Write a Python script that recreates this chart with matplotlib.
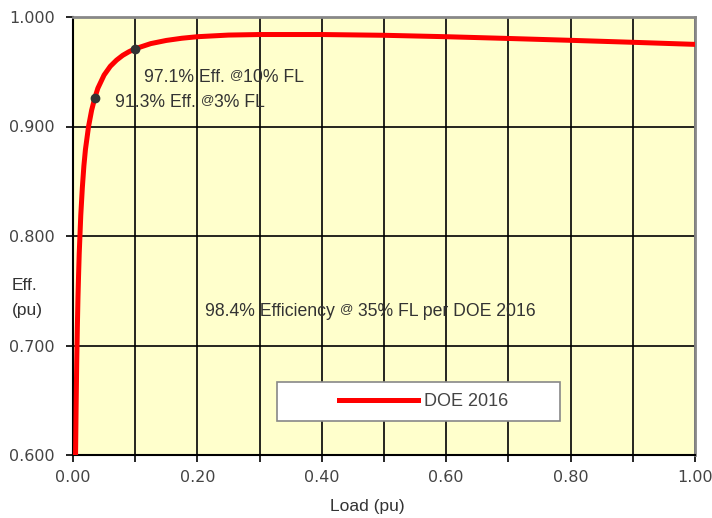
import matplotlib.pyplot as plt
import matplotlib.transforms as mtransforms
from matplotlib.patches import Rectangle

# efficiency curve
load = [0.0041, 0.005, 0.006, 0.007, 0.008, 0.009, 0.010, 0.0125, 0.015, 0.0175,
        0.02, 0.025, 0.03, 0.035, 0.04, 0.045, 0.05, 0.06, 0.07, 0.08, 0.09,
        0.10, 0.125, 0.15, 0.175, 0.20, 0.25, 0.30, 0.35, 0.40, 0.50, 0.60,
        0.70, 0.80, 0.90, 1.00]
eff = [0.600, 0.644, 0.685, 0.717, 0.744, 0.765, 0.784, 0.819, 0.844, 0.864,
       0.879, 0.900, 0.915, 0.926, 0.935, 0.941, 0.947, 0.955, 0.9606, 0.965, 0.9683,
       0.971, 0.9757, 0.9786, 0.9806, 0.982, 0.9835, 0.984, 0.984, 0.984, 0.9833, 0.982,
       0.9804, 0.9787, 0.9769, 0.975]
pt_load = [0.035, 0.10]
pt_eff = [0.926, 0.971]

xticks = [0.0, 0.1, 0.2, 0.3, 0.4, 0.5, 0.6, 0.7, 0.8, 0.9, 1.0]
xlabels = ["0.00", "", "0.20", "", "0.40", "", "0.60", "", "0.80", "", "1.00"]
yticks = [0.6, 0.7, 0.8, 0.9, 1.0]
ylabels = ["0.600", "0.700", "0.800", "0.900", "1.000"]

txt = "#333333"
sans = ["Liberation Sans", "DejaVu Sans"]
plt.rcParams['font.family'] = ['DejaVu Sans']

fig = plt.figure(figsize=(7.12, 5.18), dpi=100)
ax = fig.add_axes([73/712, 63/518, 622/712, 438/518])
ax.set_facecolor("#FFFFCC")

ax.plot(load, eff, color="#FF0000", lw=3.6, label="DOE 2016", zorder=3)
ax.plot(pt_load, pt_eff, "o", color="#333333", ms=6, zorder=4)

ax.set_xlim(0, 1)
ax.set_ylim(0.6, 1.0)
ax.set_xticks(xticks)
ax.set_xticklabels(xlabels)
ax.set_yticks(yticks)
ax.set_yticklabels(ylabels)
ax.tick_params(direction="out", length=5, width=1.2, colors="black",
               labelcolor="#444444", labelsize=11.5)
ax.tick_params(axis="y", pad=8)
ax.tick_params(axis="x", pad=6)
ax.grid(True, color="black", lw=1.2)
ax.set_axisbelow(True)
for s in ["left", "bottom"]:
    ax.spines[s].set_color("black")
    ax.spines[s].set_linewidth(1.5)
for s in ["top", "right"]:
    ax.spines[s].set_color("#888888")
    ax.spines[s].set_linewidth(2)

renderer = fig.canvas.get_renderer()


def rich(x, y, parts, ha="left"):
    # draw text pieces one after another on one baseline; small pieces sit a bit higher
    objs = []
    dx = 0
    for s, size, rise in parts:
        tr = mtransforms.offset_copy(ax.transData, fig=fig, x=dx, y=rise, units="dots")
        t = ax.text(x, y, s, fontsize=size, color=txt, va="baseline",
                    family=sans, transform=tr, zorder=2)
        dx += t.get_window_extent(renderer).width
        objs.append(t)
    if ha == "center":
        for t in objs:
            t.set_transform(t.get_transform() + mtransforms.Affine2D().translate(-dx / 2, 0))


rich(0.1145, 0.9405, [("97.1% Eff. ", 12.7, 0), ("@", 9.5, 4), ("10% FL", 12.7, 0)])
rich(0.0675, 0.9175, [("91.3% Eff. ", 12.7, 0), ("@", 9.5, 4), ("3% FL", 12.7, 0)])
rich(0.478, 0.7265, [("98.4% Efficiency ", 12.7, 0), ("@", 9.5, 4), (" 35% FL per DOE 2016", 12.7, 0)],
     ha="center")

# legend box
ax.add_patch(Rectangle((0.328, 0.078), 0.455, 0.089, transform=ax.transAxes,
                       facecolor="white", edgecolor="#888888", lw=1.2, zorder=5))
leg = ax.legend(loc="center", bbox_to_anchor=(0.5635, 0.122), frameon=False,
                handlelength=4.4, prop={"family": sans, "size": 13},
                labelcolor="#444444", handletextpad=0.3)
leg.set_zorder(6)

fig.text(12/712, 1 - 285/518, "Eff.", fontsize=12.5, color=txt, va="center", family=sans)
fig.text(12/712, 1 - 311/518, "(pu)", fontsize=12.5, color=txt, va="center", family=sans)
fig.text(367/712, 1 - 507/518, "Load (pu)", fontsize=12.5, color=txt, va="center", ha="center",
         family=sans)

fig.savefig("out.png", dpi=100)
